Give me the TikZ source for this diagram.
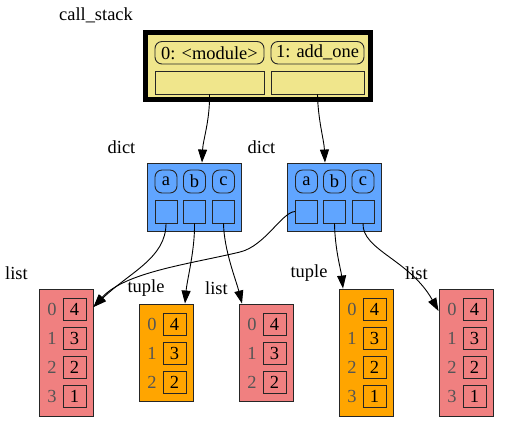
\documentclass[tikz,border=0pt]{standalone}
\usepackage{fontspec}
\setmainfont{Liberation Serif}
\usetikzlibrary{arrows.meta}
\definecolor{csfill}{HTML}{F0E68C}
\definecolor{dictfill}{HTML}{60A5FF}
\definecolor{listfill}{HTML}{F08080}
\definecolor{tuplefill}{HTML}{FFA500}
\definecolor{edgecol}{HTML}{262626}
\definecolor{idxcol}{HTML}{555555}
\begin{document}
\begin{tikzpicture}[x=1bp,y=-1bp,
  txt/.style={font=\fontsize{18.5}{20}\selectfont, inner sep=0pt},
  box/.style={draw=edgecol, line width=0.9bp, inner sep=0pt, font=\fontsize{18.5}{20}\selectfont},
  cell/.style={box, minimum width=23bp, minimum height=22bp},
  keybox/.style={box, rounded corners=7bp, minimum width=22bp, minimum height=23bp},
  valbox/.style={box, minimum width=22bp, minimum height=23bp},
  idx/.style={txt, text=idxcol},
  arr/.style={draw=black, line width=0.9bp, -{Triangle[length=13bp,width=9bp]}}
]
\useasboundingbox (0,0) rectangle (509,427);

% labels
\node[txt] (lcs) at (96,15) {call\_stack};
\node[txt] (ld1) at (121.5,147) {dict};
\node[txt] (ld2) at (261.5,147) {dict};
\node[txt] (ll1) at (16.5,273) {list};
\node[txt] (lt1) at (146,288) {tuple};
\node[txt] (ll2) at (216.5,288) {list};
\node[txt] (lt2) at (309,273) {tuple};
\node[txt] (ll3) at (416.5,273) {list};

% call stack
\node[draw=black, line width=5bp, fill=csfill, minimum width=225bp, minimum height=67bp, inner sep=0pt] (cs) at (258,66) {};
\node[keybox, minimum width=109bp, minimum height=22.5bp] (fl0) at (209.5,52.75) {0: <module>};
\node[keybox, minimum width=93bp, minimum height=22.5bp] (fl1) at (317.5,52.75) {1: add\_one};
\node[valbox, minimum width=109bp] (fv0) at (209.5,82.5) {};
\node[valbox, minimum width=93bp] (fv1) at (317.5,82.5) {};

% dicts
\node[box, fill=dictfill, minimum width=94bp, minimum height=68bp] (d1) at (194,197) {};
\node[keybox] (d1ka) at (166,181.5) {a};
\node[keybox] (d1kb) at (194.5,181.5) {b};
\node[keybox] (d1kc) at (223.5,181.5) {c};
\node[valbox] (d1va) at (166,211.5) {};
\node[valbox] (d1vb) at (194.5,211.5) {};
\node[valbox] (d1vc) at (223.5,211.5) {};

\node[box, fill=dictfill, minimum width=94bp, minimum height=68bp] (d2) at (334,197) {};
\node[keybox] (d2ka) at (306.5,181.5) {a};
\node[keybox] (d2kb) at (334.5,181.5) {b};
\node[keybox] (d2kc) at (363,181.5) {c};
\node[valbox] (d2va) at (306.5,211.5) {};
\node[valbox] (d2vb) at (334.5,211.5) {};
\node[valbox] (d2vc) at (363,211.5) {};

% lists and tuples
\node[box, fill=listfill, minimum width=54bp, minimum height=127bp] (L1) at (66,352.5) {};
\foreach \i/\v in {0/4,1/3,2/2,3/1} {
  \node[idx] (L1i\i) at (52,{309+29.3*\i}) {\i};
  \node[cell] (L1v\i) at (74.5,{309+29.3*\i}) {\v};
}
\node[box, fill=tuplefill, minimum width=54bp, minimum height=97bp] (T1) at (166,352.5) {};
\foreach \i/\v in {0/4,1/3,2/2} {
  \node[idx] (T1i\i) at (152,{324+29.3*\i}) {\i};
  \node[cell] (T1v\i) at (174.5,{324+29.3*\i}) {\v};
}
\node[box, fill=listfill, minimum width=54bp, minimum height=97bp] (L2) at (266,352.5) {};
\foreach \i/\v in {0/4,1/3,2/2} {
  \node[idx] (L2i\i) at (252,{324+29.3*\i}) {\i};
  \node[cell] (L2v\i) at (274.5,{324+29.3*\i}) {\v};
}
\node[box, fill=tuplefill, minimum width=54bp, minimum height=127bp] (T2) at (366,352.5) {};
\foreach \i/\v in {0/4,1/3,2/2,3/1} {
  \node[idx] (T2i\i) at (352,{309+29.3*\i}) {\i};
  \node[cell] (T2v\i) at (374.5,{309+29.3*\i}) {\v};
}
\node[box, fill=listfill, minimum width=54bp, minimum height=127bp] (L3) at (466,352.5) {};
\foreach \i/\v in {0/4,1/3,2/2,3/1} {
  \node[idx] (L3i\i) at (452,{309+29.3*\i}) {\i};
  \node[cell] (L3v\i) at (474.5,{309+29.3*\i}) {\v};
}

% edges
\draw[arr] (fv0.south) .. controls (210,120) and (203,140) .. ([xshift=8bp]d1.north);
\draw[arr] (fv1.south) .. controls (318,120) and (324,140) .. ([xshift=-9bp]d2.north);
\draw[arr] (d1va.south) .. controls (166,258) and (130,272) .. ([yshift=2bp]L1.east |- L1v0);
\draw[arr] (d2va.west) .. controls (282,212) and (265,246) .. (240,252)
  .. controls (190,264) and (125,272) .. ([yshift=2bp]L1.east |- L1v0);
\draw[arr] (d1vb.south) .. controls (195,250) and (187,280) .. ([xshift=19bp]T1.north);
\draw[arr] (d1vc.south) .. controls (224,250) and (236,280) .. ([xshift=-24bp]L2.north);
\draw[arr] (d2vb.south) .. controls (335,250) and (341,270) .. ([xshift=-23bp]T2.north);
\draw[arr] (d2vc.south) .. controls (362,250) and (410,260) .. ([yshift=-2bp]L3.west |- L3v0);
\end{tikzpicture}
\end{document}
